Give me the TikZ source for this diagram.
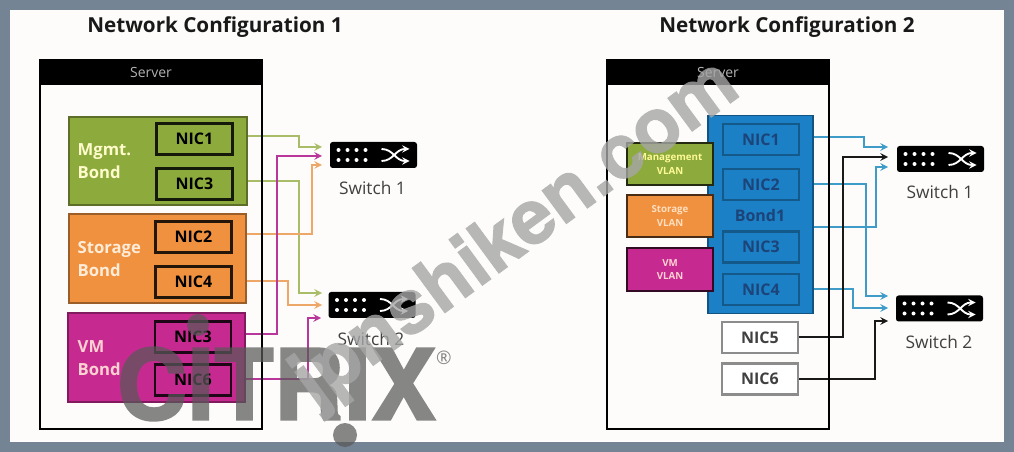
\documentclass[tikz,border=0pt]{standalone}
\usepackage{fontspec}
\setmainfont{Open Sans}
\newfontfamily\logofont[BoldFeatures = {FakeBold = 2.2}]{TeX Gyre Heros}
\newfontfamily\markfont[BoldFeatures = {FakeBold = 1.2}]{TeX Gyre Heros}
\usetikzlibrary{backgrounds}

\definecolor{frameGray}{HTML}{748494}
\definecolor{paperWhite}{HTML}{FDFCFA}
\definecolor{bondGreen}{HTML}{8DAA3C}
\definecolor{bondOrange}{HTML}{F0913F}
\definecolor{bondPink}{HTML}{C62A90}
\definecolor{bondBlue}{HTML}{1B80C6}
\definecolor{wireGreen}{HTML}{A9BC68}
\definecolor{wireOrange}{HTML}{EDA768}
\definecolor{wirePink}{HTML}{B9379A}
\definecolor{wireBlue}{HTML}{3F9CC8}
\definecolor{nicNavy}{HTML}{1C4478}

\tikzset{
	boxsize/.style 2 args = {minimum width = #1*0.75pt, minimum height = #2*0.75pt, inner sep = 0pt, outer sep = 0pt},
	serverbox/.style = {draw = black, line width = 1.5pt},
	serverhead/.style = {fill = black, text = white!70!black, font = \fontsize{10.5}{10.5}\selectfont},
	bondbox/.style = {fill = #1, draw = #1!65!black, line width = 0.8pt},
	nicbox/.style = {draw = #1, line width = 1.6pt, boxsize = {76}{31}, font = \fontsize{12}{12}\selectfont\bfseries},
	bondtext/.style = {anchor = west, align = left, font = \fontsize{12.5}{17}\selectfont\bfseries, text = #1},
	vlantext/.style = {align = center, text = #1, font = \fontsize{7.3}{10}\selectfont\bfseries},
	switchbox/.style = {fill = black, rounded corners = 2pt, boxsize = {87}{26}},
	switchname/.style = {text = black!75, font = \fontsize{13}{13}\selectfont},
	wire/.style = {-stealth, line width = 1.5pt, draw = #1},
	switchmarks/.pic = {
		\foreach \dotX in {-35,-26,-17,-8} {
			\foreach \dotY in {-5,5} {
				\fill [white] (\dotX,\dotY) circle (2);
			}
		}
		\draw [white, line width = 1.4pt, -stealth] (8,-6) .. controls (20,-6) and (22,6) .. (36,6);
		\draw [white, line width = 1.4pt, -stealth] (8,6) .. controls (20,6) and (22,-6) .. (36,-6);
	}
}

\begin{document}
\begin{tikzpicture}[x = 0.75pt, y = -0.75pt]
	\useasboundingbox (0,0) rectangle (1014,452);

	\begin{scope}[on background layer]
		\fill [frameGray] (0,0) rectangle (1014,452);
		\fill [paperWhite] (10,10) rectangle (1004,442);
	\end{scope}

	% left configuration
	\begin{scope}
		\node [font = \fontsize{15.5}{16}\selectfont\bfseries, text = black!90] (titleA) at (215,27) {Network Configuration 1};
		\node [serverbox, boxsize = {222}{369}] (serverA) at (151,244.5) {};
		\node [serverhead, boxsize = {222}{25}] (headA) at (151,72.5) {Server};

		\node [bondbox = bondGreen, boxsize = {178}{88}] (mgmtBond) at (158,161) {};
		\node [nicbox = black!85!bondGreen] (nicOneA) at (194.5,139) {NIC1};
		\node [nicbox = black!85!bondGreen] (nicThreeA) at (194.5,184) {NIC3};
		\node [bondtext = yellow!20] (mgmtText) at (73,161) {Mgmt.\\Bond};

		\node [bondbox = bondOrange, boxsize = {177}{89}] (storageBond) at (157.5,258.5) {};
		\node [nicbox = black!85!bondOrange] (nicTwoA) at (193.5,237) {NIC2};
		\node [nicbox = black!85!bondOrange] (nicFourA) at (193.5,282) {NIC4};
		\node [bondtext = orange!15] (storageText) at (73,259) {Storage\\Bond};

		\node [bondbox = bondPink, boxsize = {177}{89}] (vmBond) at (156.5,357.5) {};
		\node [nicbox = black!85!bondPink] (nicFiveA) at (193,337) {NIC3};
		\node [nicbox = black!85!bondPink] (nicSixA) at (193,380) {NIC6};
		\node [bondtext = pink!70] (vmText) at (73,358) {VM\\Bond};

		\node [switchbox] (switchA) at (373.5,155) {};
		\pic at (switchA) {switchmarks};
		\node [switchname] (switchAName) at (372.5,188) {Switch 1};
		\node [switchbox] (switchB) at (372,305) {};
		\pic at (switchB) {switchmarks};
		\node [switchname] (switchBName) at (371,339) {Switch 2};

		\coordinate (portAa) at (322,147);
		\coordinate (portAb) at (322,156);
		\coordinate (portAc) at (322,165);
		\coordinate (portBa) at (322,293);
		\coordinate (portBb) at (322,305);
		\coordinate (portBc) at (321,318);
	\end{scope}

	\begin{scope}[on background layer]
		\draw [wire = wireGreen] ([yshift = 2pt]nicOneA.east) -- ++(66,0) |- (portAa);
		\draw [wire = wireGreen] ([yshift = 2pt]nicThreeA.east) -- ++(66,0) |- (portBa);
		\draw [wire = wireOrange] ([yshift = 2pt]nicTwoA.east) -- ++(80,0) |- (portAc);
		\draw [wire = wireOrange] ([yshift = 1pt]nicFourA.east) -- ++(56,0) |- (portBb);
		\draw [wire = wirePink] ([yshift = 2pt]nicFiveA.east) -- ++(46,0) |- (portAb);
		\draw [wire = wirePink] ([yshift = 1pt]nicSixA.east) -- ++(77,0) |- (portBc);
	\end{scope}

	% right configuration
	\begin{scope}
		\node [font = \fontsize{15.5}{16}\selectfont\bfseries, text = black!90] (titleB) at (787,27) {Network Configuration 2};
		\node [serverbox, boxsize = {222}{369}] (serverB) at (718,244.5) {};
		\node [serverhead, boxsize = {222}{25}] (headB) at (718,72.5) {Server};

		\node [bondbox = bondBlue, boxsize = {105}{198}] (bondOne) at (760.5,214.5) {};
		\node [nicbox = bondBlue!70!black, text = nicNavy] (nicOneB) at (761,139.5) {NIC1};
		\node [nicbox = bondBlue!70!black, text = nicNavy] (nicTwoB) at (761,184.5) {NIC2};
		\node [font = \fontsize{12}{12}\selectfont\bfseries, text = nicNavy] (bondOneText) at (760,216) {Bond1};
		\node [nicbox = bondBlue!70!black, text = nicNavy] (nicThreeB) at (761,247) {NIC3};
		\node [nicbox = bondBlue!70!black, text = nicNavy] (nicFourB) at (761,289.5) {NIC4};
		\node [nicbox = black!45, fill = white, text = black!75] (nicFiveB) at (760,337.5) {NIC5};
		\node [nicbox = black!45, fill = white, text = black!75] (nicSixB) at (760,379) {NIC6};

		\node [bondbox = bondGreen, draw = black!75!bondGreen, boxsize = {86}{42}] (mgmtVlan) at (670,164) {};
		\node [vlantext = yellow!40] (mgmtVlanText) at (670,164) {Management\\VLAN};
		\node [bondbox = bondOrange, draw = black!70!bondOrange, boxsize = {86}{42}] (storageVlan) at (670,216) {};
		\node [vlantext = orange!25] (storageVlanText) at (670,216) {Storage\\VLAN};
		\node [bondbox = bondPink, draw = black!75!bondPink, boxsize = {86}{43}] (vmVlan) at (670,269.5) {};
		\node [vlantext = pink!70] (vmVlanText) at (670,269.5) {VM\\VLAN};

		\node [switchbox] (switchC) at (940.5,159) {};
		\pic at (switchC) {switchmarks};
		\node [switchname] (switchCName) at (940,192) {Switch 1};
		\node [switchbox] (switchD) at (939.5,308.5) {};
		\pic at (switchD) {switchmarks};
		\node [switchname] (switchDName) at (939,342) {Switch 2};

		\coordinate (bondPortC) at (813,227);
		\coordinate (portCa) at (888,147);
		\coordinate (portCb) at (888,157);
		\coordinate (portCc) at (888,167);
		\coordinate (portDa) at (888,296);
		\coordinate (portDb) at (888,308);
		\coordinate (portDc) at (888,321);
	\end{scope}

	\begin{scope}[on background layer]
		\draw [wire = wireBlue] ([yshift = 2pt]nicOneB.east) -- ++(65,0) |- (portCa);
		\draw [wire = wireBlue] (nicTwoB.east) -- ++(67,0) |- (portDa);
		\draw [wire = wireBlue] (bondPortC) -- ++(63,0) |- (portCc);
		\draw [wire = wireBlue] (nicFourB.east) -- ++(54,0) |- (portDb);
		\draw [wire = black!90] (nicFiveB.east) -- ++(45,0) |- (portCb);
		\draw [wire = black!90] (nicSixB.east) -- ++(77,0) |- (portDc);
	\end{scope}

	% overlays
	\begin{scope}[transparency group, opacity = 0.72]
		\node [font = \logofont\fontsize{73}{73}\selectfont\bfseries, text = black!65, inner sep = 0pt] (citrixLogo) at (276.5,384) {CITRIX};
		\fill [black!65] (198,325) circle (11);
		\fill [black!65] (345,435) circle (12);
		\node [font = \fontsize{14}{14}\selectfont, text = black!65] (citrixMark) at (444,358) {®};
	\end{scope}
	\begin{scope}[transparency group, opacity = 0.8]
		\node [rotate = 36.3, font = \markfont\fontsize{57}{57}\selectfont\bfseries, text = black!35] (watermark) at (517,235) {jpnshiken.com};
	\end{scope}
\end{tikzpicture}
\end{document}
